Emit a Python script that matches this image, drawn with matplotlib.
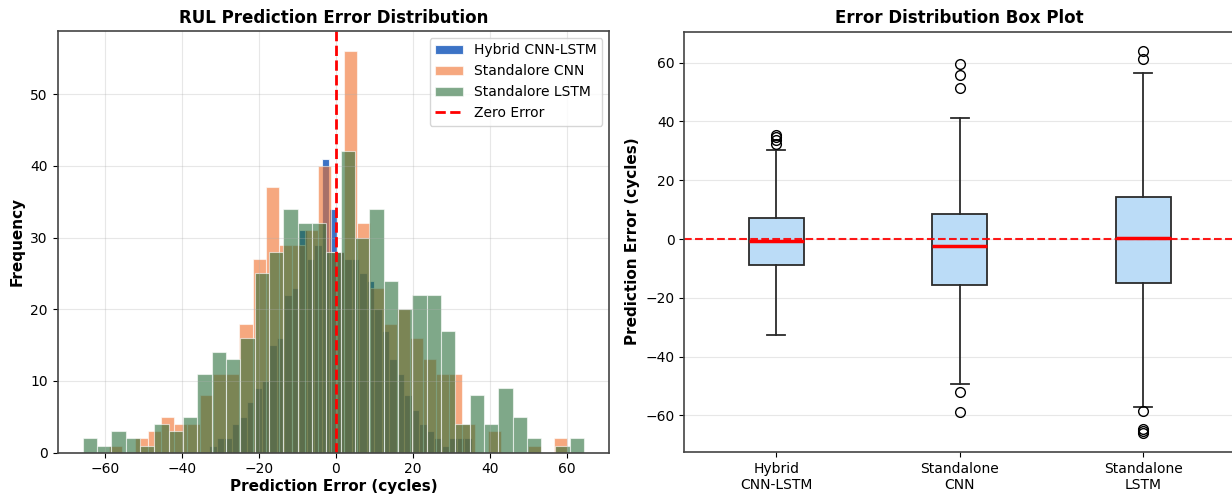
import numpy as np
import matplotlib.pyplot as plt

# histogram counts (35 bins per model)
hybrid_range = (-32.8, 35.3)
hybrid_counts = [1, 2, 2, 4, 5, 7, 9, 10, 15, 16, 22, 23, 31, 27, 29, 41, 34,
                 28, 27, 27, 25, 24, 20, 17, 13, 11, 8, 6, 4, 3, 2, 1, 2, 2, 2]

cnn_range = (-59.0, 60.0)
cnn_counts = [1, 0, 2, 3, 5, 4, 4, 8, 11, 11, 18, 27, 37, 29, 29, 31, 40,
              28, 56, 32, 23, 18, 20, 16, 13, 11, 11, 4, 0, 3, 0, 0, 1, 0, 2]

lstm_range = (-65.7, 64.5)
lstm_counts = [2, 1, 3, 2, 1, 4, 3, 5, 11, 14, 13, 16, 25, 28, 34, 32, 32,
               28, 42, 30, 34, 24, 20, 22, 22, 17, 4, 8, 4, 9, 5, 2, 0, 1, 2]

hist_labels = ['Hybrid CNN-LSTM', 'Standalore CNN', 'Standalore LSTM']

# box plot summary per model
box_names = ['Hybrid\nCNN-LSTM', 'Standalone\nCNN', 'Standalone\nLSTM']
q1 = [-9.0, -15.6, -14.8]
med = [-0.8, -2.4, 0.4]
q3 = [7.2, 8.5, 14.4]
wlo = [-32.7, -49.2, -57.1]
whi = [30.3, 41.2, 56.6]
fliers = [[32.2, 33.6, 34.7, 35.3],
          [51.4, 55.9, 59.5, -52.0, -58.9],
          [61.2, 64.1, -58.6, -64.7, -65.4, -65.9]]

fig = plt.figure(figsize=(12.32, 4.98), dpi=100)
ax1 = fig.add_axes([0.0468, 0.091, 0.4477, 0.8468])
ax2 = fig.add_axes([0.5556, 0.0928, 0.4468, 0.8438])

colors = ['#0b50b8', '#f06e2a', '#2a6e3a']
alphas = [0.8, 0.6, 0.6]
for rng, cnt, lab, col, al in zip([hybrid_range, cnn_range, lstm_range],
                                  [hybrid_counts, cnn_counts, lstm_counts],
                                  hist_labels, colors, alphas):
    edges = np.linspace(rng[0], rng[1], len(cnt) + 1)
    mids = (edges[:-1] + edges[1:]) / 2
    ax1.hist(mids, bins=edges, weights=cnt, color=col, alpha=al,
             edgecolor='white', linewidth=0.8, label=lab)

ax1.axvline(0, color='red', linestyle='--', linewidth=2, label='Zero Error')
ax1.set_title('RUL Prediction Error Distribution', fontsize=12, fontweight='bold')
ax1.set_xlabel('Prediction Error (cycles)', fontsize=11, fontweight='bold', labelpad=2)
ax1.set_ylabel('Frequency', fontsize=11, fontweight='bold')
ax1.grid(True, alpha=0.3)
ax1.legend(loc='upper right', fontsize=10)
ax1.set_xticks([-60, -40, -20, 0, 20, 40, 60])
ax1.set_yticks([0, 10, 20, 30, 40, 50])

stats = []
for i in range(3):
    stats.append({'label': box_names[i], 'q1': q1[i], 'med': med[i], 'q3': q3[i],
                  'whislo': wlo[i], 'whishi': whi[i], 'fliers': fliers[i]})

ax2.bxp(stats, widths=0.3, capwidths=0.1, patch_artist=True,
        boxprops=dict(facecolor='#bbdcf7', edgecolor='#2b2b2b', linewidth=1.3),
        medianprops=dict(color='red', linewidth=2.5),
        whiskerprops=dict(color='#2b2b2b', linewidth=1.3),
        capprops=dict(color='#2b2b2b', linewidth=1.3),
        flierprops=dict(marker='o', markerfacecolor='none', markeredgecolor='black',
                        markersize=7))
ax2.axhline(0, color='red', linestyle='--', linewidth=1.5, alpha=0.9)
ax2.set_title('Error Distribution Box Plot', fontsize=12, fontweight='bold')
ax2.set_ylabel('Prediction Error (cycles)', fontsize=11, fontweight='bold')
ax2.grid(True, axis='y', alpha=0.3)
ax2.set_yticks([-60, -40, -20, 0, 20, 40, 60])

for ax in (ax1, ax2):
    ax.tick_params(labelsize=10)
    for s in ax.spines.values():
        s.set_color('#444444')
        s.set_linewidth(1.2)

fig.savefig('out.png', dpi=100)
